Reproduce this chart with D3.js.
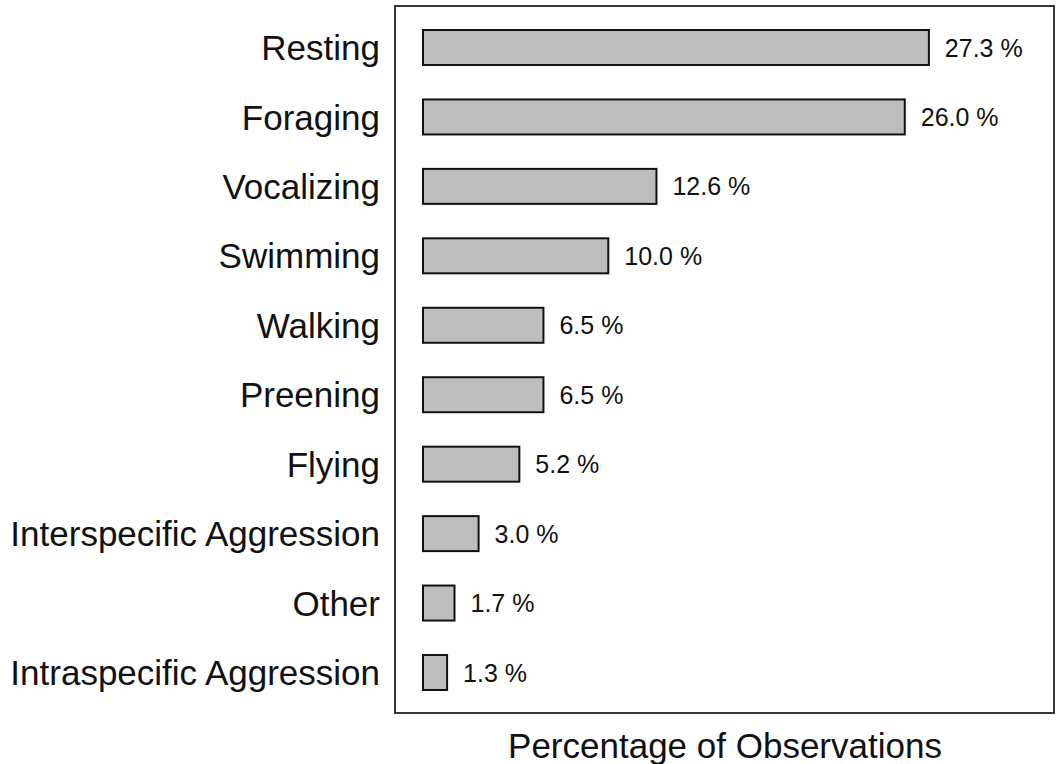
<!DOCTYPE html>
<html>
<head>
<meta charset="utf-8">
<script src="https://cdn.jsdelivr.net/npm/d3@7"></script>
<style>
  body { margin: 0; background: #fff; }
  text { font-family: "Liberation Sans", Arial, sans-serif; fill: #111; }
</style>
</head>
<body>
<div class="canvas"></div>
<script>
const behaviours = ["Resting", "Foraging", "Vocalizing", "Swimming", "Walking",
  "Preening", "Flying", "Interspecific Aggression", "Other", "Intraspecific Aggression"];
const percents = [27.3, 26.0, 12.6, 10.0, 6.5, 6.5, 5.2, 3.0, 1.7, 1.3];
const valueLabels = ["27.3 %", "26.0 %", "12.6 %", "10.0 %", "6.5 %", "6.5 %", "5.2 %", "3.0 %", "1.7 %", "1.3 %"];

const data = behaviours.map((b, i) => ({ name: b, value: percents[i], label: valueLabels[i] }));

const svg = d3.select('.canvas')
  .append('svg')
  .attr('width', 1058)
  .attr('height', 764);

// frame
svg.append('rect')
  .attr('x', 395)
  .attr('y', 6)
  .attr('width', 659)
  .attr('height', 707)
  .attr('fill', 'none')
  .attr('stroke', '#222')
  .attr('stroke-width', 1.8);

const x = d3.scaleLinear()
  .domain([0, 30])
  .range([423, 423 + 30 * 18.53]);

const y = d3.scalePoint()
  .domain(behaviours)
  .range([47.5, 672.5]);

const barH = 35;

svg.append('g')
  .selectAll('rect')
  .data(data)
  .join('rect')
  .attr('x', x(0))
  .attr('y', d => y(d.name) - barH / 2)
  .attr('width', d => x(d.value) - x(0))
  .attr('height', barH)
  .attr('fill', '#bdbdbd')
  .attr('stroke', '#111')
  .attr('stroke-width', 2);

// value labels
svg.append('g')
  .selectAll('text')
  .data(data)
  .join('text')
  .attr('x', d => x(d.value) + 16)
  .attr('y', d => y(d.name))
  .attr('dy', '0.36em')
  .style('font-size', '25px')
  .text(d => d.label);

// category labels
svg.append('g')
  .selectAll('text')
  .data(data)
  .join('text')
  .attr('x', 380)
  .attr('y', d => y(d.name))
  .attr('dy', '0.36em')
  .attr('text-anchor', 'end')
  .style('font-size', '35px')
  .text(d => d.name);

svg.append('text')
  .attr('x', 725)
  .attr('y', 758)
  .attr('text-anchor', 'middle')
  .style('font-size', '35px')
  .text('Percentage of Observations');
</script>
</body>
</html>
